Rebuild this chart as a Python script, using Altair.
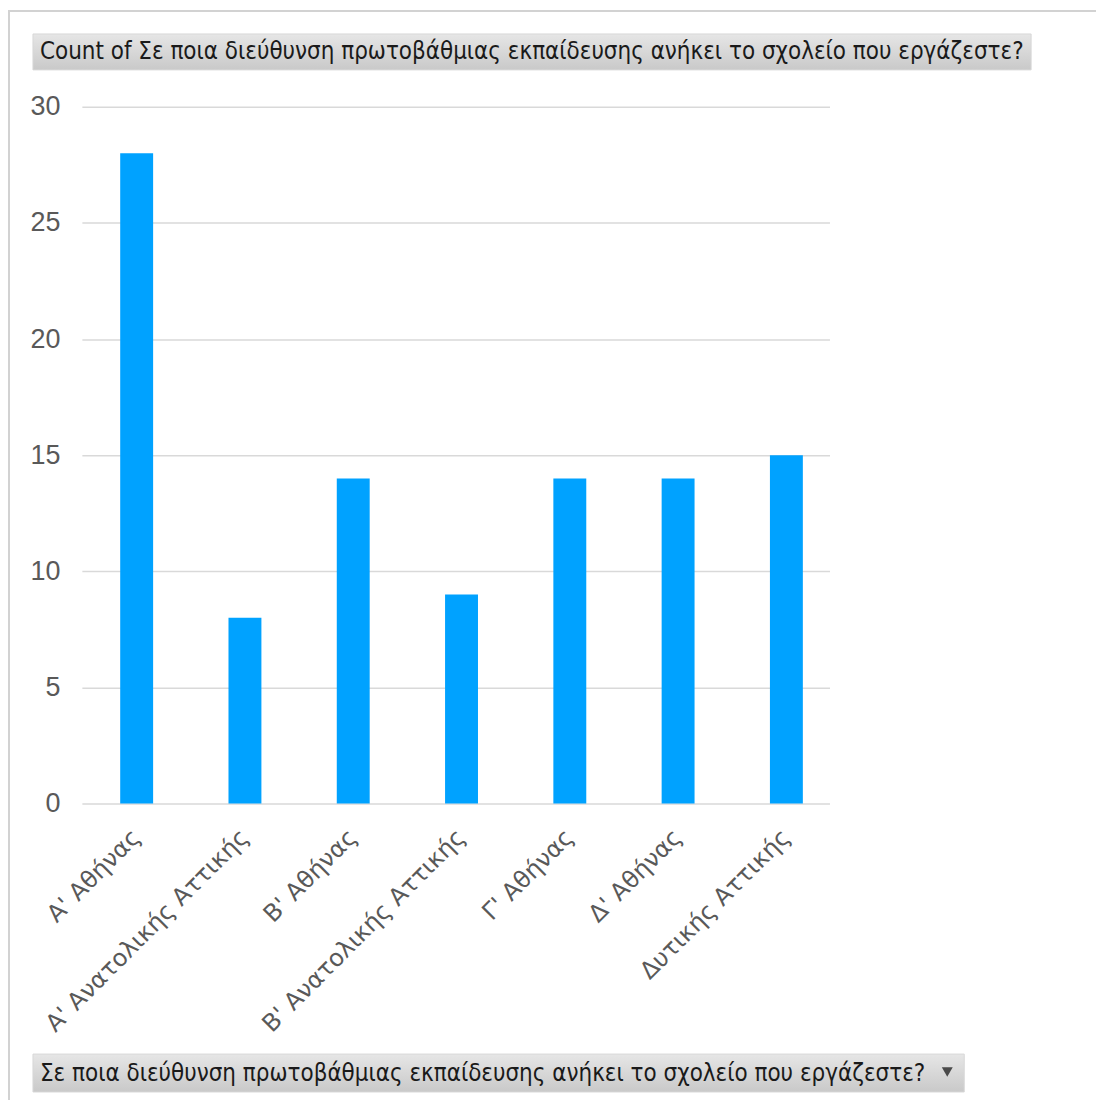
import altair as alt
import pandas as pd

categories = ["Α' Αθήνας", "Α' Ανατολικής Αττικής", "Β' Αθήνας", "Β' Ανατολικής Αττικής",
              "Γ' Αθήνας", "Δ' Αθήνας", "Δυτικής Αττικής"]
counts = [28, 8, 14, 9, 14, 14, 15]
y_ticks = [0, 5, 10, 15, 20, 25, 30]
title_text = "Count of Σε ποια διεύθυνση πρωτοβάθμιας εκπαίδευσης ανήκει το σχολείο που εργάζεστε?"
field_text = "Σε ποια διεύθυνση πρωτοβάθμιας εκπαίδευσης ανήκει το σχολείο που εργάζεστε?"

df = pd.DataFrame({"cat": categories, "count": counts})
one = pd.DataFrame({"k": [0]})

W, H = 749, 698
TEXT_FONT = "DejaVu Sans Condensed"

grad = alt.LinearGradient(gradient="linear", x1=0, x2=0, y1=0, y2=1,
                          stops=[alt.GradientStop(color="#e6e6e6", offset=0),
                                 alt.GradientStop(color="#c9c9c9", offset=1)])

frame = alt.Chart(one).mark_rect(fill="transparent", stroke="#d2d2d2", strokeWidth=2).encode(
    x=alt.value(-73), x2=alt.value(1200), y=alt.value(-96), y2=alt.value(1200))

title_box = alt.Chart(one).mark_rect(color=grad, stroke="#d8d8d8", strokeWidth=1).encode(
    x=alt.value(-49), x2=alt.value(951), y=alt.value(-73), y2=alt.value(-37))
title_lbl = alt.Chart(one).mark_text(align="left", baseline="middle", font=TEXT_FONT,
                                     fontSize=24, color="#1a1a1a", text=title_text).encode(
    x=alt.value(-42), y=alt.value(-55))

bars = alt.Chart(df).mark_bar(color="#00A2FF").encode(
    x=alt.X("cat:N", sort=categories,
            scale=alt.Scale(paddingInner=0.696, paddingOuter=0.3, align=0.59),
            axis=alt.Axis(title=None, labelAngle=-45, labelAlign="right", labelBaseline="middle",
                          labelPadding=30, ticks=False, domain=False, labelLimit=0,
                          labelOverlap=False, labelFont="DejaVu Sans", labelFontSize=24,
                          labelColor="#595959")),
    y=alt.Y("count:Q", scale=alt.Scale(domain=[0, 30], nice=False),
            axis=alt.Axis(title=None, values=y_ticks, ticks=False, domain=False,
                          labelFont="Liberation Sans", labelFontSize=27, labelColor="#595959",
                          labelPadding=22, gridColor="#d9d9d9", gridWidth=1.5)),
)

field_box = alt.Chart(one).mark_rect(color=grad, stroke="#d8d8d8", strokeWidth=1).encode(
    x=alt.value(-49), x2=alt.value(884), y=alt.value(949), y2=alt.value(987))
field_lbl = alt.Chart(one).mark_text(align="left", baseline="middle", font=TEXT_FONT,
                                     fontSize=24, color="#1a1a1a", text=field_text).encode(
    x=alt.value(-42), y=alt.value(969))
arrow = alt.Chart(one).mark_point(shape="triangle-down", filled=True, color="#4a4a4a",
                                  size=120, opacity=1).encode(
    x=alt.value(867), y=alt.value(967))

chart = alt.layer(frame, title_box, title_lbl, bars, field_box, field_lbl, arrow).properties(
    width=W, height=H,
    autosize=alt.AutoSizeParams(type="none"),
    padding={"left": 74, "top": 98, "right": 267, "bottom": 296},
).configure_view(stroke=None)

chart.save("out.html", embed_options={"renderer": "svg", "actions": False})
